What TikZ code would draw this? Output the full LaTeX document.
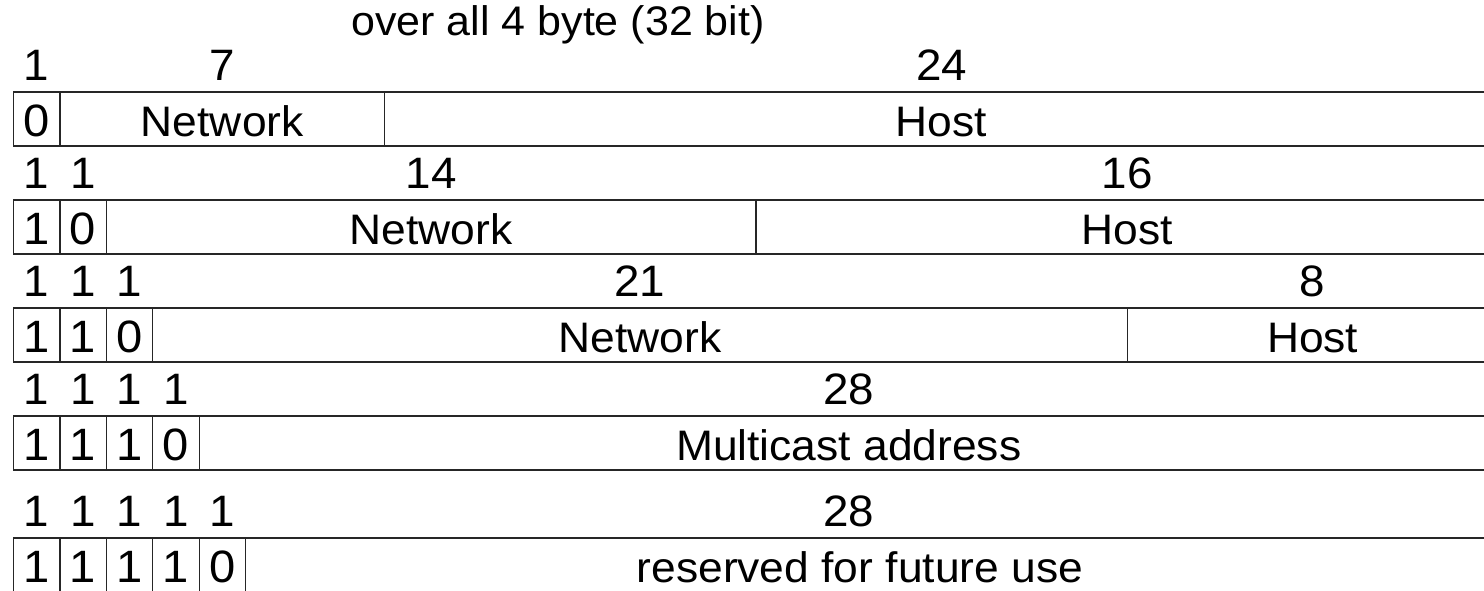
\documentclass[tikz,border=0pt]{standalone}
\usepackage{fontspec}
\setmainfont{Liberation Sans}[FakeStretch=1.04]
\usetikzlibrary{positioning}

\begin{document}
\begin{tikzpicture}[x=0.75pt,y=-0.75pt,
  field/.style={draw=black!85,line width=0.9pt,rectangle,inner sep=0pt,
    outer sep=0pt,minimum height=40.5pt,text height=26.25pt,text depth=0pt,
    font=\fontsize{32}{38}\selectfont},
  bit/.style={field,minimum width=34.8pt,font=\fontsize{34}{40}\selectfont},
  bits/.style={field,minimum width=#1*34.8pt},
  count/.style={inner sep=0pt,text depth=0pt,font=\fontsize{33}{40}\selectfont}]

  \useasboundingbox (0,0) rectangle (1484,590);
  \clip (0,0) rectangle (1484,590);

  \node[anchor=base,inner sep=0pt,font=\fontsize{31}{37}\selectfont] (title)
    at (558,35) {over all 4 byte (32 bit)};

  \node[bit,anchor=north west] (a0) at (13.5,92) {0};
  \node[bits=7] (anet) [right=0pt of a0] {Network};
  \node[bits=24] (ahost) [right=0pt of anet] {Host};

  \node[bit] (b0) [below=40.5pt of a0] {1};
  \node[bit] (b1) [right=0pt of b0] {0};
  \node[bits=14] (bnet) [right=0pt of b1] {Network};
  \node[bits=16] (bhost) [right=0pt of bnet] {Host};

  \node[bit] (c0) [below=40.5pt of b0] {1};
  \node[bit] (c1) [right=0pt of c0] {1};
  \node[bit] (c2) [right=0pt of c1] {0};
  \node[bits=21] (cnet) [right=0pt of c2] {Network};
  \node[bits=8] (chost) [right=0pt of cnet] {Host};

  \node[bit] (d0) [below=40.5pt of c0] {1};
  \node[bit] (d1) [right=0pt of d0] {1};
  \node[bit] (d2) [right=0pt of d1] {1};
  \node[bit] (d3) [right=0pt of d2] {0};
  \node[bits=28] (dmc) [right=0pt of d3] {Multicast address};

  \node[bit] (e0) [below=51pt of d0] {1};
  \node[bit] (e1) [right=0pt of e0] {1};
  \node[bit] (e2) [right=0pt of e1] {1};
  \node[bit] (e3) [right=0pt of e2] {1};
  \node[bit] (e4) [right=0pt of e3] {0};
  \node[bits=27] (eres) [right=0pt of e4] {\hspace*{-18pt}reserved for future use};

  \foreach \f/\n in {a0/1,anet/7,ahost/24,b0/1,b1/1,bnet/14,bhost/16,
      c0/1,c1/1,c2/1,cnet/21,chost/8,d0/1,d1/1,d2/1,d3/1,dmc/28,
      e0/1,e1/1,e2/1,e3/1,e4/1}
    \node[count] (l\f) [above=8.25pt of \f.north] {\n};
  \node[count] (leres) [above=8.25pt of eres.north,xshift=-17.25pt] {28};
\end{tikzpicture}
\end{document}
